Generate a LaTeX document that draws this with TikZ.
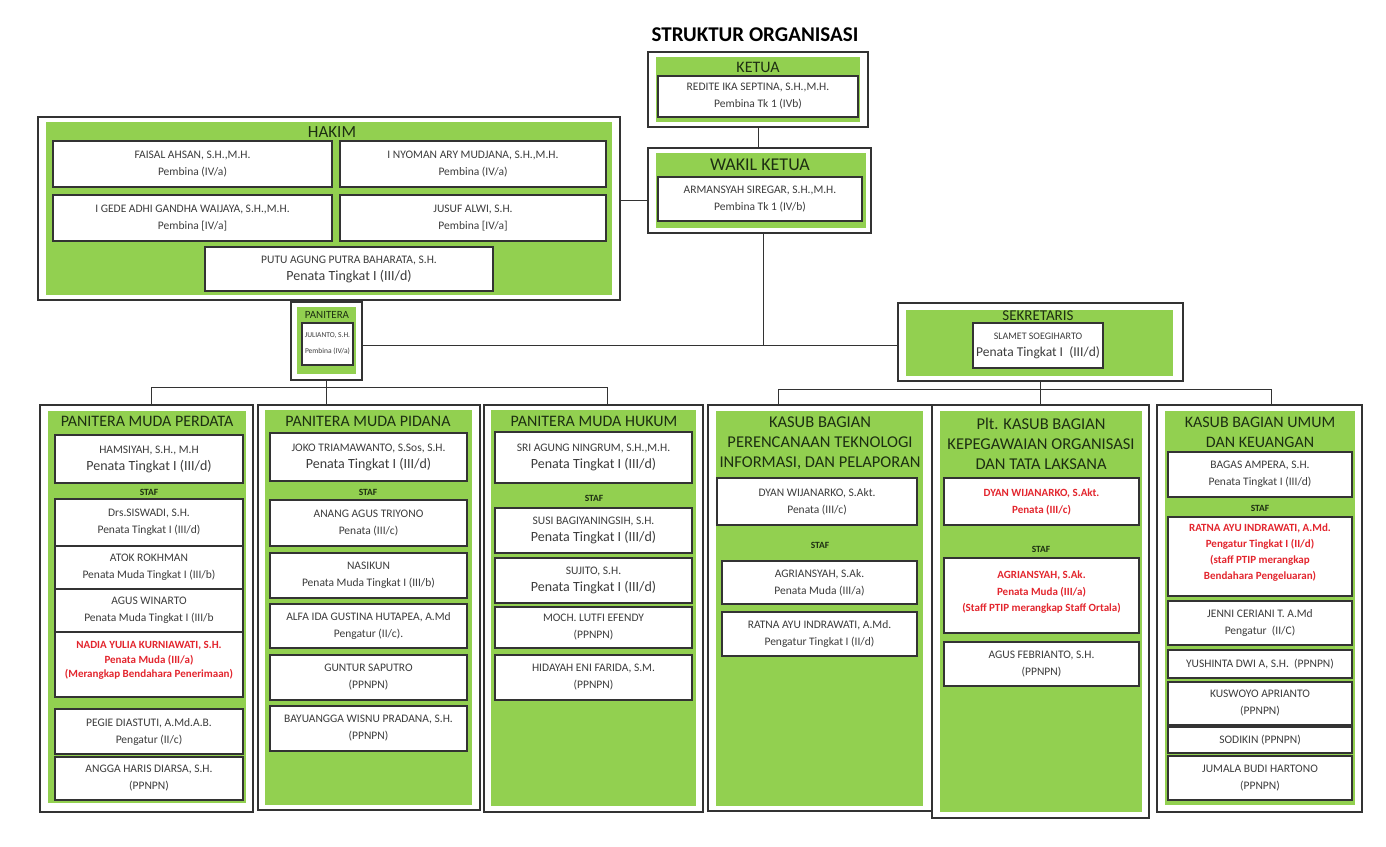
\documentclass[tikz,border=0pt]{standalone}
\usepackage{fontspec}
\setmainfont{Carlito}
\usetikzlibrary{fit,positioning}

\definecolor{hijau}{HTML}{92D050}
\definecolor{merah}{HTML}{E3262E}
\definecolor{garis}{HTML}{333333}
\definecolor{teks}{HTML}{3C3C3C}
\definecolor{teksjudul}{HTML}{1D2F12}
\newcommand\besar[1]{{\fontsize{14}{17}\selectfont #1}}

\begin{document}
\begin{tikzpicture}[x=1pt,y=-1pt,
    bingkai/.style={draw=garis,line width=1.3pt,fill=white,inner sep=0pt},
    latar/.style={fill=hijau,inner sep=0pt},
    orang/.style={draw=garis,line width=1.1pt,fill=white,inner sep=0pt},
    tulis/.style={align=center,inner sep=0pt,text=teks,font=\fontsize{11.5}{17}\selectfont},
    penting/.style={align=center,inner sep=0pt,text=merah,font=\fontsize{11}{14.5}\selectfont\bfseries},
    judul/.style={text=teksjudul,align=center,font=\fontsize{16}{20}\selectfont},
    staf/.style={text=teksjudul,font=\fontsize{9.5}{11}\selectfont\bfseries},
    hubung/.style={draw=garis,line width=0.9pt}]
  \fill[white](0,0)rectangle(1386,846);
  \useasboundingbox(0,0)rectangle(1386,846);
  \node[font=\fontsize{21}{24}\selectfont\bfseries](tajuk)at(755,35){STRUKTUR ORGANISASI};
  % pimpinan
  \node[bingkai,fit={(648,52)(868,127)}](ketuaL){};
  \node[latar,fit={(656,57)(860,122)}](ketuaH){};
  \node[judul](ketuaJ)at(758,67){KETUA};
  \node[orang,fit={(658,76)(858,117)},label={[tulis]center:REDITE IKA SEPTINA, S.H.,M.H.\\Pembina Tk 1 (IVb)}](ketua){};
  \node[bingkai,fit={(648,148)(871,233)}](wakilL){};
  \node[latar,fit={(656,153)(866,228)}](wakilH){};
  \node[judul,font=\fontsize{18}{20}\selectfont](wakilJ)at(760,165){WAKIL KETUA};
  \node[orang,fit={(658,177)(862,221)},label={[tulis]center:ARMANSYAH SIREGAR, S.H.,M.H.\\Pembina Tk 1 (IV/b)}](wakil){};
  % hakim
  \node[bingkai,fit={(38,117)(620,300)}](hakimL){};
  \node[latar,fit={(46,122)(612,295)}](hakimH){};
  \node[judul,font=\fontsize{17}{20}\selectfont](hakimJ)at(332,132){HAKIM};
  \node[orang,fit={(53,141)(332,187)},label={[tulis]center:FAISAL AHSAN, S.H.,M.H.\\Pembina (IV/a)}](h1){};
  \node[orang,fit={(340,141)(606,187)},label={[tulis]center:I NYOMAN ARY MUDJANA, S.H.,M.H.\\Pembina (IV/a)}](h2){};
  \node[orang,fit={(53,195)(332,241)},label={[tulis]center:I GEDE ADHI GANDHA WAIJAYA, S.H.,M.H.\\Pembina [IV/a]}](h3){};
  \node[orang,fit={(340,195)(606,241)},label={[tulis]center:JUSUF ALWI, S.H.\\Pembina [IV/a]}](h4){};
  \node[orang,fit={(205,247)(493,291)},label={[tulis]center:PUTU AGUNG PUTRA BAHARATA, S.H.\\\besar{Penata Tingkat I (III/d)}}](h5){};
  % panitera & sekretaris
  \node[bingkai,fit={(291,302)(362,380)}](panL){};
  \node[latar,fit={(297,307)(356,374)}](panH){};
  \node[judul,font=\fontsize{11}{12}\selectfont](panJ)at(327,315){PANITERA};
  \node[orang,fit={(302,323)(353,365)},label={[tulis,font=\fontsize{7.5}{16}\selectfont]center:JULIANTO, S.H.\\Pembina (IV/a)}](pan){};
  \node[bingkai,fit={(898,303)(1183,381)}](sekL){};
  \node[latar,fit={(906,310)(1173,376)}](sekH){};
  \node[judul,font=\fontsize{15}{16}\selectfont](sekJ)at(1038,316){SEKRETARIS};
  \node[orang,fit={(973,323)(1103,368)},label={[tulis]center:{\fontsize{10}{17}\selectfont SLAMET SOEGIHARTO}\\{\fontsize{13.5}{17}\selectfont Penata Tingkat I~ (III/d)}}](sek){};
  % kolom 1
  \node[bingkai,fit={(40,405)(253,812)}](k1){};
  \node[latar,fit={(48,411)(246,803)}](k1H){};
  \node[judul](k1J)at(147,421){PANITERA MUDA PERDATA};
  \node[orang,fit={(55,435)(243,483)},label={[tulis]center:HAMSIYAH, S.H., M.H\\\besar{Penata Tingkat I (III/d)}}](k1a){};
  \node[staf](k1s)at(149,492){STAF};
  \node[orang,fit={(55,499)(243,546)},label={[tulis]center:Drs.SISWADI, S.H.\\Penata Tingkat I (III/d)}](k1b){};
  \node[orang,fit={(55,546)(243,589)},label={[tulis]center:ATOK ROKHMAN\\Penata Muda Tingkat I (III/b)}](k1c){};
  \node[orang,fit={(55,589)(243,632)},label={[tulis]center:AGUS WINARTO\\Penata Muda Tingkat I (III/b}](k1d){};
  \node[orang,fit={(55,632)(243,697)},label={[penting,yshift=4pt]center:NADIA YULIA KURNIAWATI, S.H.\\Penata Muda (III/a)\\(Merangkap Bendahara Penerimaan)}](k1e){};
  \node[orang,fit={(55,709)(243,754)},label={[tulis]center:PEGIE DIASTUTI, A.Md.A.B.\\Pengatur (II/c)}](k1f){};
  \node[orang,fit={(55,757)(243,800)},label={[tulis]center:ANGGA HARIS DIARSA, S.H.\\(PPNPN)}](k1g){};
  % kolom 2
  \node[bingkai,fit={(258,405)(480,810)}](k2){};
  \node[latar,fit={(265,410)(472,805)}](k2H){};
  \node[judul](k2J)at(368,421){PANITERA MUDA PIDANA};
  \node[orang,fit={(270,433)(467,481)},label={[tulis]center:JOKO TRIAMAWANTO, S.Sos, S.H.\\\besar{Penata Tingkat I (III/d)}}](k2a){};
  \node[staf](k2s)at(368,492){STAF};
  \node[orang,fit={(270,500)(467,546)},label={[tulis]center:ANANG AGUS TRIYONO\\Penata (III/c)}](k2b){};
  \node[orang,fit={(270,553)(467,598)},label={[tulis]center:NASIKUN\\Penata Muda Tingkat I (III/b)}](k2c){};
  \node[orang,fit={(270,604)(467,648)},label={[tulis]center:ALFA IDA GUSTINA HUTAPEA, A.Md\\Pengatur (II/c).}](k2d){};
  \node[orang,fit={(270,655)(467,700)},label={[tulis]center:GUNTUR SAPUTRO\\(PPNPN)}](k2e){};
  \node[orang,fit={(270,706)(467,751)},label={[tulis]center:BAYUANGGA WISNU PRADANA, S.H.\\(PPNPN)}](k2f){};
  % kolom 3
  \node[bingkai,fit={(484,405)(703,812)}](k3){};
  \node[latar,fit={(491,410)(696,806)}](k3H){};
  \node[judul](k3J)at(594,421){PANITERA MUDA HUKUM};
  \node[orang,fit={(495,432)(692,483)},label={[tulis]center:SRI AGUNG NINGRUM, S.H.,M.H.\\\besar{Penata Tingkat I (III/d)}}](k3a){};
  \node[staf](k3s)at(594,498){STAF};
  \node[orang,fit={(495,508)(692,553)},label={[tulis]center:SUSI BAGIYANINGSIH, S.H.\\\besar{Penata Tingkat I (III/d)}}](k3b){};
  \node[orang,fit={(495,558)(692,603)},label={[tulis]center:SUJITO, S.H.\\\besar{Penata Tingkat I (III/d)}}](k3c){};
  \node[orang,fit={(495,607)(692,648)},label={[tulis]center:MOCH. LUTFI EFENDY\\(PPNPN)}](k3d){};
  \node[orang,fit={(495,655)(692,700)},label={[tulis]center:HIDAYAH ENI FARIDA, S.M.\\(PPNPN)}](k3e){};
  % kolom 4
  \node[bingkai,fit={(708,405)(932,811)}](k4){};
  \node[latar,fit={(716,411)(923,806)}](k4H){};
  \node[judul,font=\fontsize{16.5}{20}\selectfont](k4J)at(820,443){KASUB BAGIAN\\PERENCANAAN TEKNOLOGI\\INFORMASI, DAN PELAPORAN};
  \node[orang,fit={(717,478)(917,525)},label={[tulis]center:DYAN WIJANARKO, S.Akt.\\Penata (III/c)}](k4a){};
  \node[staf](k4s)at(820,545){STAF};
  \node[orang,fit={(722,561)(917,604)},label={[tulis]center:AGRIANSYAH, S.Ak.\\Penata Muda (III/a)}](k4b){};
  \node[orang,fit={(722,612)(917,656)},label={[tulis]center:RATNA AYU INDRAWATI, A.Md.\\Pengatur Tingkat I (II/d)}](k4c){};
  % kolom 5
  \node[bingkai,fit={(932,405)(1149,818)}](k5){};
  \node[latar,fit={(940,411)(1142,812)}](k5H){};
  \node[judul,font=\fontsize{16.5}{20}\selectfont](k5J)at(1041,444){Plt. KASUB BAGIAN\\KEPEGAWAIAN ORGANISASI\\DAN TATA LAKSANA};
  \node[orang,fit={(944,478)(1139,525)},label={[penting,font=\fontsize{11}{17}\selectfont\bfseries]center:DYAN WIJANARKO, S.Akt.\\Penata (III/c)}](k5a){};
  \node[staf](k5s)at(1041,549){STAF};
  \node[orang,fit={(944,558)(1139,633)},label={[penting,font=\fontsize{11}{16.5}\selectfont\bfseries,yshift=3pt]center:AGRIANSYAH, S.Ak.\\Penata Muda (III/a)\\(Staff PTIP merangkap Staff Ortala)}](k5b){};
  \node[orang,fit={(944,642)(1139,686)},label={[tulis]center:AGUS FEBRIANTO, S.H.\\(PPNPN)}](k5c){};
  % kolom 6
  \node[bingkai,fit={(1157,405)(1362,812)}](k6){};
  \node[latar,fit={(1165,411)(1355,805)}](k6H){};
  \node[judul](k6J)at(1260,432){KASUB BAGIAN UMUM\\DAN KEUANGAN};
  \node[orang,fit={(1168,452)(1352,497)},label={[tulis]center:BAGAS AMPERA, S.H.\\Penata Tingkat I (III/d)}](k6a){};
  \node[staf](k6s)at(1260,508){STAF};
  \node[orang,fit={(1168,517)(1352,596)},label={[penting,font=\fontsize{11}{16}\selectfont\bfseries,yshift=4pt]center:RATNA AYU INDRAWATI, A.Md.\\Pengatur Tingkat I (II/d)\\(staff PTIP merangkap\\Bendahara Pengeluaran)}](k6b){};
  \node[orang,fit={(1168,601)(1352,645)},label={[tulis]center:JENNI CERIANI T. A.Md\\Pengatur~ (II/C)}](k6c){};
  \node[orang,fit={(1168,650)(1352,678)},label={[tulis]center:YUSHINTA DWI A, S.H.~ (PPNPN)}](k6d){};
  \node[orang,fit={(1168,682)(1352,725)},label={[tulis]center:KUSWOYO APRIANTO\\(PPNPN)}](k6e){};
  \node[orang,fit={(1168,727)(1352,753)},label={[tulis]center:SODIKIN (PPNPN)}](k6f){};
  \node[orang,fit={(1168,756)(1352,800)},label={[tulis]center:JUMALA BUDI HARTONO\\(PPNPN)}](k6g){};
  % garis
  \coordinate(simpul)at(763,345);
  \coordinate(hk)at(0,200);
  \draw[hubung](ketuaL.south)--(ketuaL.south|-wakilL.north);
  \draw[hubung](hakimL.east|-hk)--(wakilL.west|-hk);
  \draw[hubung](wakilL.south-|simpul)--(simpul);
  \draw[hubung](panL.east|-simpul)--(sekL.west|-simpul);
  \draw[hubung](panL.south)--(panL.south|-k2.north);
  \draw[hubung]([xshift=5pt]k1.north)--++(0,-17)-|([xshift=14pt]k3.north);
  \draw[hubung](sekL.south-|k5.north)--(k5.north);
  \draw[hubung]([xshift=-42pt]k4.north)--++(0,-15)-|([xshift=12pt]k6.north);
\end{tikzpicture}
\end{document}
